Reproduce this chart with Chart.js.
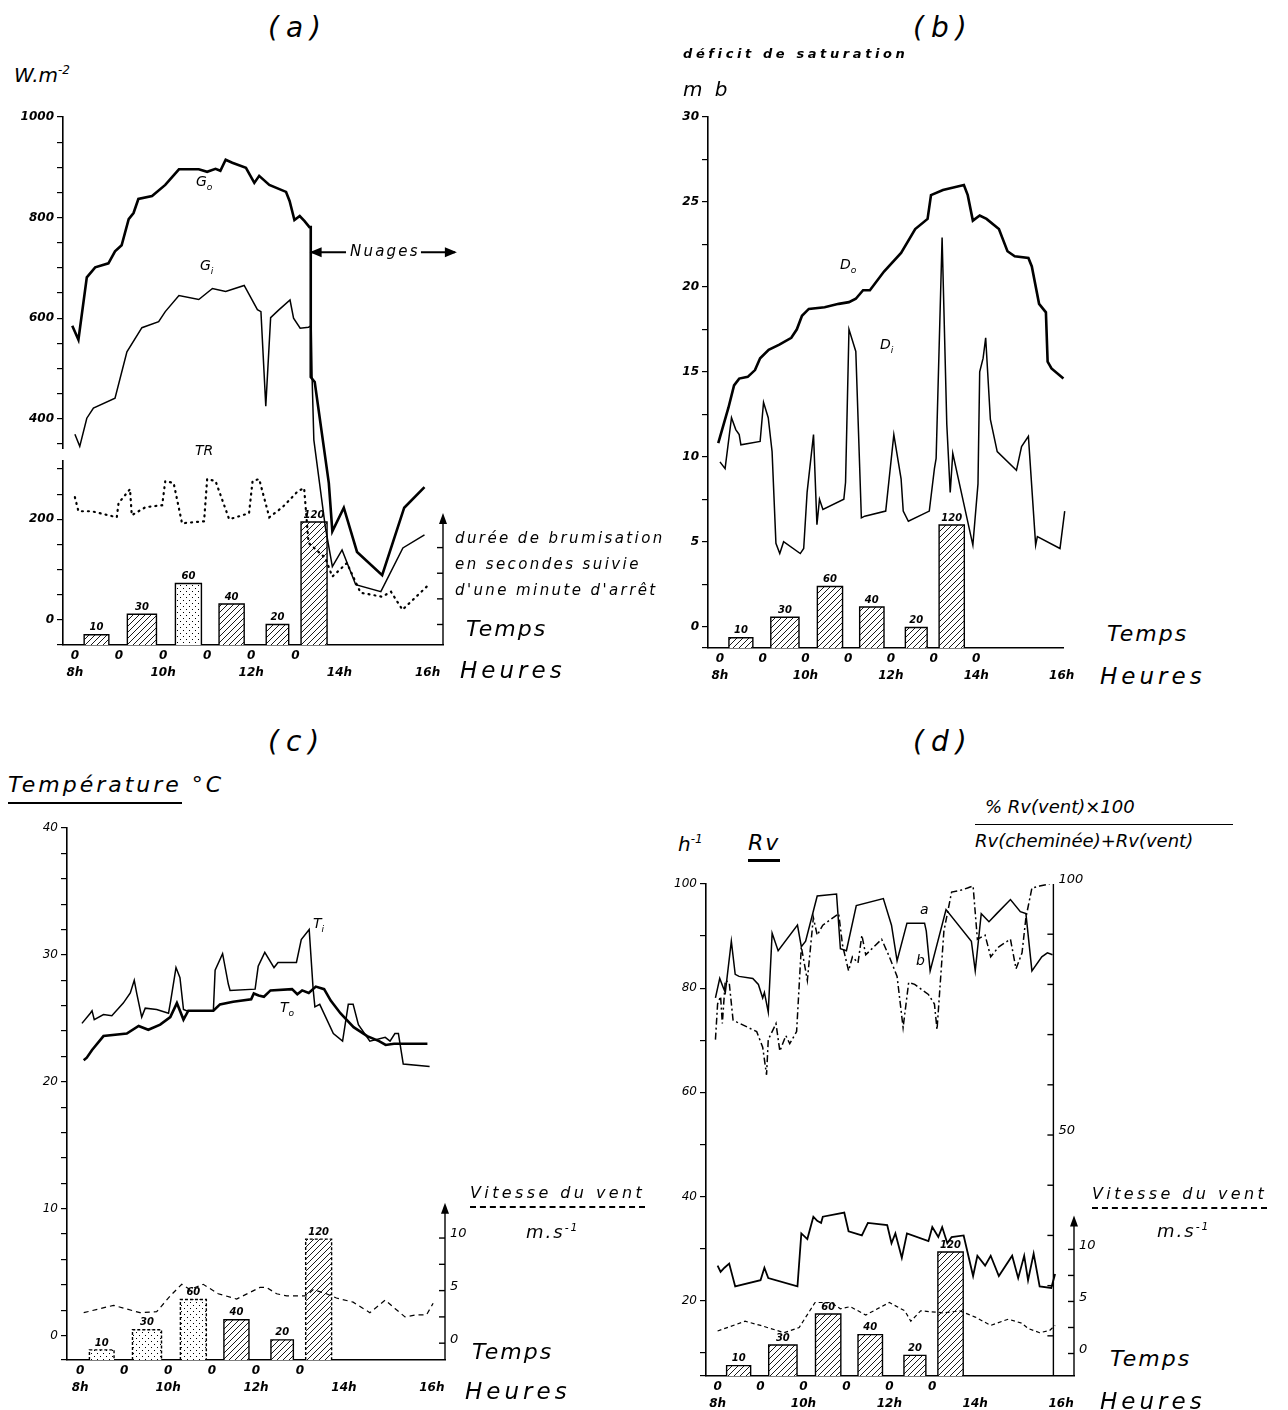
<!DOCTYPE html>
<html>
<head>
<meta charset="utf-8">
<script src="https://cdn.jsdelivr.net/npm/chart.js@4.4.1/dist/chart.umd.min.js"></script>
<style>
  body { margin: 0; width: 1288px; height: 1410px; position: relative; overflow: hidden; background: #fff;
         font-family: "DejaVu Sans", sans-serif; font-style: italic; color: #000; }
  canvas { position: absolute; }
  .t { position: absolute; white-space: nowrap; line-height: 1; }
  .ttl { font-size: 28px; letter-spacing: 7px; }
  .lbl { font-size: 14px; }
  .big { font-size: 22px; letter-spacing: 2px; }
  .heu { font-size: 23px; letter-spacing: 4px; }
  .brum { font-size: 15px; letter-spacing: 2.4px; }
  sup { font-size: 60%; }
  sub { font-size: 65%; }
</style>
</head>
<body>
<canvas id="chartA"></canvas>
<canvas id="chartB"></canvas>
<canvas id="chartC"></canvas>
<canvas id="chartD"></canvas>

<!-- (a) -->
<div class="t ttl" style="left:268px;top:14px">(a)</div>
<div class="t" style="left:14px;top:64px;font-size:20px">W.m<sup>-2</sup></div>
<div class="t lbl" style="left:196px;top:174px">G<sub>o</sub></div>
<div class="t lbl" style="left:200px;top:258px">G<sub>i</sub></div>
<div class="t lbl" style="left:195px;top:443px">TR</div>
<div class="t" style="left:350px;top:244px;font-size:15px;letter-spacing:2.2px">Nuages</div>
<div class="t brum" style="left:455px;top:531px">durée de brumisation</div>
<div class="t brum" style="left:455px;top:557px">en secondes suivie</div>
<div class="t brum" style="left:455px;top:583px">d'une minute d'arrêt</div>
<div class="t big" style="left:466px;top:618px">Temps</div>
<div class="t heu" style="left:460px;top:659px">Heures</div>

<!-- (b) -->
<div class="t ttl" style="left:913px;top:14px">(b)</div>
<div class="t" style="left:683px;top:47px;font-size:13px;font-weight:bold;letter-spacing:3.6px">déficit de saturation</div>
<div class="t" style="left:683px;top:79px;font-size:20px;letter-spacing:3px">m b</div>
<div class="t lbl" style="left:840px;top:257px">D<sub>o</sub></div>
<div class="t lbl" style="left:880px;top:337px">D<sub>i</sub></div>
<div class="t big" style="left:1107px;top:623px">Temps</div>
<div class="t heu" style="left:1100px;top:665px">Heures</div>

<!-- (c) -->
<div class="t ttl" style="left:268px;top:728px">(c)</div>
<div class="t big" style="left:8px;top:774px;letter-spacing:3px"><span style="border-bottom:2px solid #000;padding-bottom:5px">Température</span> °C</div>
<div class="t lbl" style="left:313px;top:916px">T<sub>i</sub></div>
<div class="t lbl" style="left:280px;top:1000px">T<sub>o</sub></div>
<div class="t" style="left:470px;top:1185px;font-size:16px;letter-spacing:3.4px;border-bottom:2px dashed #000;padding-bottom:5px">Vitesse du vent</div>
<div class="t" style="left:526px;top:1223px;font-size:18px;letter-spacing:2px">m.s<sup>-1</sup></div>
<div class="t big" style="left:472px;top:1341px">Temps</div>
<div class="t heu" style="left:465px;top:1380px">Heures</div>

<!-- (d) -->
<div class="t ttl" style="left:913px;top:728px">(d)</div>
<div class="t" style="left:985px;top:798px;font-size:18px">% Rv(vent)×100</div>
<div class="t" style="left:975px;top:824px;width:258px;height:0;border-top:1.5px solid #000"></div>
<div class="t" style="left:975px;top:832px;font-size:18px">Rv(cheminée)+Rv(vent)</div>
<div class="t" style="left:678px;top:833px;font-size:20px">h<sup>-1</sup></div>
<div class="t" style="left:748px;top:832px;font-size:22px;letter-spacing:2px"><span style="border-bottom:3px solid #000;padding-bottom:4px">Rv</span></div>
<div class="t lbl" style="left:920px;top:902px">a</div>
<div class="t lbl" style="left:916px;top:953px">b</div>
<div class="t" style="left:1092px;top:1186px;font-size:16px;letter-spacing:3.4px;border-bottom:2px dashed #000;padding-bottom:5px">Vitesse du vent</div>
<div class="t" style="left:1157px;top:1222px;font-size:18px;letter-spacing:2px">m.s<sup>-1</sup></div>
<div class="t big" style="left:1110px;top:1348px">Temps</div>
<div class="t heu" style="left:1100px;top:1390px">Heures</div>

<script>
// brumisation cycles (shared by the four panels)
const brumStart = [8.21, 9.19, 10.28, 11.27, 12.34, 13.13];
const brumEnd = [8.77, 9.85, 10.87, 11.84, 12.85, 13.72];
const brumSec = [10, 30, 60, 40, 20, 120];
const brumLabel = ['10', '30', '60', '40', '20', '120'];

// x axis ticks
const hourTicks = [8, 9, 10, 11, 12, 13, 14, 15, 16];
const hourLabels = ['8h', '', '10h', '', '12h', '', '14h', '', '16h'];
const zeroRow6 = ['0', '0', '0', '0', '0', '0', '', '', ''];
const zeroRow7 = ['0', '0', '0', '0', '0', '0', '0', '', ''];

// (a) rayonnement W.m-2
const goHour = [7.94, 8.08, 8.27, 8.46, 8.76, 8.91, 9.06, 9.22, 9.33, 9.44, 9.75, 10.05, 10.36, 10.81, 11.0, 11.19, 11.3, 11.42, 11.57, 11.88, 12.07, 12.18, 12.41, 12.79, 12.87, 12.98, 13.1, 13.21, 13.32, 13.35, 13.35, 13.44, 13.76, 13.84, 14.1, 14.4, 14.97, 15.47, 15.93];
const goW = [585, 557, 681, 701, 709, 733, 745, 797, 809, 837, 843, 865, 896, 896, 891, 897, 893, 915, 909, 899, 869, 883, 865, 851, 833, 795, 803, 793, 781, 781, 483, 473, 272, 176, 223, 135, 89, 223, 264];
const giHour = [8.0, 8.11, 8.27, 8.42, 8.91, 9.18, 9.52, 9.9, 10.05, 10.36, 10.81, 11.12, 11.42, 11.84, 12.14, 12.22, 12.33, 12.44, 12.62, 12.88, 12.96, 13.11, 13.3, 13.36, 13.38, 13.42, 13.68, 13.84, 14.06, 14.37, 14.94, 15.44, 15.93];
const giW = [369, 345, 401, 421, 441, 533, 581, 593, 613, 645, 637, 659, 653, 665, 617, 613, 425, 601, 616, 636, 600, 580, 582, 585, 484, 358, 185, 106, 139, 70, 56, 143, 169];
const trHour = [8.0, 8.08, 8.38, 8.95, 8.99, 9.25, 9.29, 9.6, 9.98, 10.05, 10.24, 10.43, 10.93, 11.0, 11.19, 11.5, 11.95, 12.03, 12.18, 12.41, 12.71, 13.06, 13.2, 13.3, 13.68, 13.84, 14.17, 14.48, 14.97, 15.17, 15.43, 15.98];
const trW = [244, 216, 216, 204, 232, 260, 208, 224, 228, 276, 272, 192, 196, 280, 276, 200, 212, 276, 280, 204, 224, 256, 262, 153, 123, 86, 113, 54, 46, 56, 20, 66];

// (b) déficit de saturation, mb
const doHour = [7.96, 8.2, 8.33, 8.45, 8.65, 8.82, 8.94, 9.14, 9.39, 9.67, 9.8, 9.92, 10.08, 10.45, 10.78, 11.02, 11.18, 11.35, 11.51, 11.84, 12.24, 12.57, 12.86, 12.94, 13.22, 13.71, 13.8, 13.92, 14.08, 14.24, 14.53, 14.73, 14.9, 15.22, 15.3, 15.47, 15.63, 15.67, 15.76, 16.04, 16.2];
const doMb = [10.8, 12.9, 14.2, 14.6, 14.7, 15.1, 15.8, 16.3, 16.6, 17.0, 17.5, 18.3, 18.7, 18.8, 19.0, 19.1, 19.3, 19.8, 19.8, 20.9, 22.0, 23.4, 24.0, 25.4, 25.7, 26.0, 25.4, 23.9, 24.2, 24.0, 23.4, 22.1, 21.8, 21.7, 21.2, 19.0, 18.5, 15.6, 15.2, 14.6, 13.6];
const diHour = [8.0, 8.12, 8.27, 8.37, 8.45, 8.49, 8.94, 9.02, 9.13, 9.22, 9.31, 9.4, 9.49, 9.88, 9.96, 10.04, 10.19, 10.27, 10.33, 10.41, 10.9, 10.94, 11.02, 11.18, 11.31, 11.39, 11.88, 12.07, 12.24, 12.29, 12.41, 12.9, 13.02, 13.06, 13.2, 13.31, 13.39, 13.45, 13.92, 14.04, 14.08, 14.16, 14.22, 14.33, 14.49, 14.94, 15.06, 15.22, 15.39, 15.43, 15.96, 16.07];
const diMb = [9.7, 9.3, 12.3, 11.6, 11.3, 10.7, 10.9, 13.2, 12.3, 10.3, 4.9, 4.3, 5.0, 4.3, 4.6, 7.9, 11.3, 6.0, 7.5, 6.9, 7.5, 8.5, 17.5, 16.2, 6.4, 6.5, 6.8, 11.3, 8.7, 6.8, 6.2, 6.8, 9.3, 9.9, 22.9, 11.9, 7.9, 10.2, 4.8, 8.4, 15.0, 15.8, 17.0, 12.2, 10.3, 9.2, 10.6, 11.2, 4.8, 5.3, 4.6, 6.8];

// (c) température °C et vent m/s
const tiHour = [8.04, 8.23, 8.27, 8.32, 8.53, 8.72, 8.98, 9.14, 9.23, 9.29, 9.4, 9.48, 9.74, 10.01, 10.06, 10.18, 10.27, 10.35, 10.42, 11.03, 11.07, 11.24, 11.37, 11.41, 11.98, 12.05, 12.2, 12.41, 12.5, 12.92, 13.03, 13.21, 13.3, 13.34, 13.45, 13.76, 13.97, 14.1, 14.21, 14.33, 14.59, 14.94, 15.05, 15.16, 15.24, 15.35, 15.95];
const tiC = [24.6, 25.4, 25.6, 24.9, 25.3, 25.2, 26.2, 27.0, 28.0, 26.9, 25.1, 25.8, 25.7, 25.4, 26.4, 29.0, 28.2, 25.7, 25.6, 25.6, 28.8, 30.1, 27.7, 27.2, 27.3, 29.1, 30.2, 29.0, 29.4, 29.4, 31.2, 32.0, 27.3, 25.9, 26.1, 23.8, 23.2, 26.1, 26.1, 24.5, 23.2, 23.5, 23.2, 23.8, 23.8, 21.4, 21.2];
const toHour = [8.08, 8.15, 8.27, 8.53, 9.06, 9.33, 9.55, 9.82, 10.05, 10.2, 10.35, 10.46, 11.03, 11.18, 11.48, 11.89, 11.95, 12.06, 12.18, 12.33, 12.82, 12.94, 13.05, 13.2, 13.36, 13.55, 13.7, 13.92, 14.22, 14.53, 14.8, 14.95, 15.14, 15.9];
const toC = [21.7, 21.9, 22.5, 23.6, 23.8, 24.4, 24.1, 24.5, 25.1, 26.2, 24.9, 25.6, 25.6, 26.1, 26.3, 26.5, 26.96, 26.8, 26.7, 27.2, 27.3, 26.9, 27.2, 27.0, 27.5, 27.3, 26.4, 25.4, 24.3, 23.6, 23.2, 22.9, 23.0, 23.0];
const ventCHour = [8.08, 8.76, 9.36, 9.74, 10.05, 10.31, 10.5, 10.8, 11.14, 11.56, 12.09, 12.24, 12.47, 12.7, 13.15, 13.3, 13.6, 13.83, 14.21, 14.59, 14.94, 15.16, 15.39, 15.65, 15.88, 16.03];
const ventC = [2.9, 3.6, 2.9, 3.0, 4.5, 5.6, 5.1, 5.6, 4.7, 4.2, 5.3, 5.3, 4.7, 4.5, 4.5, 5.1, 4.7, 4.3, 3.9, 2.9, 4.1, 3.3, 2.5, 2.7, 2.7, 3.8];

// (d) taux de renouvellement Rv h-1, % Rv(vent), vent m/s
const aHour = [7.95, 8.05, 8.14, 8.18, 8.32, 8.41, 8.5, 8.82, 8.95, 9.05, 9.09, 9.18, 9.27, 9.41, 9.86, 9.95, 10.05, 10.32, 10.77, 10.86, 11.0, 11.23, 11.86, 12.05, 12.18, 12.41, 12.82, 12.86, 12.95, 13.32, 13.91, 14.0, 14.14, 14.32, 14.5, 14.82, 15.05, 15.18, 15.32, 15.55, 15.68, 15.8];
const aPct = [77.3, 81.2, 79.2, 78.4, 88.6, 82.0, 81.6, 81.2, 80.0, 77.3, 78.4, 74.5, 90.2, 86.7, 91.8, 87.5, 88.6, 97.6, 98.0, 87.1, 86.7, 95.7, 97.1, 91.8, 84.7, 92.2, 92.2, 90.6, 82.7, 94.9, 88.6, 82.7, 94.1, 92.5, 94.1, 96.9, 94.5, 94.1, 82.7, 85.5, 86.3, 85.9];
const bHour = [7.95, 8.0, 8.07, 8.11, 8.18, 8.27, 8.36, 8.45, 8.91, 9.05, 9.14, 9.18, 9.27, 9.36, 9.45, 9.59, 9.68, 9.84, 9.95, 10.09, 10.23, 10.32, 10.45, 10.82, 10.91, 11.05, 11.14, 11.27, 11.36, 11.45, 11.82, 12.0, 12.18, 12.32, 12.45, 12.59, 12.91, 13.05, 13.11, 13.27, 13.45, 13.68, 13.82, 13.95, 14.05, 14.23, 14.36, 14.55, 14.82, 14.95, 15.09, 15.18, 15.32, 15.5, 15.73];
const bPct = [69.0, 76.1, 77.6, 72.2, 80.8, 80.4, 72.9, 72.5, 70.6, 67.5, 62.0, 69.0, 70.6, 72.2, 66.7, 69.8, 68.2, 70.6, 87.5, 80.8, 93.3, 89.8, 91.8, 94.1, 87.8, 82.7, 85.5, 84.3, 89.8, 85.9, 89.0, 85.5, 81.6, 71.4, 80.4, 80.0, 78.0, 76.1, 71.0, 90.6, 98.4, 98.8, 99.2, 99.6, 89.0, 89.8, 85.5, 87.5, 89.0, 83.1, 86.3, 93.3, 99.2, 99.6, 100];
const rvHour = [8.0, 8.07, 8.16, 8.27, 8.41, 9.0, 9.09, 9.18, 9.86, 9.95, 10.09, 10.23, 10.32, 10.41, 10.45, 10.95, 11.05, 11.36, 11.5, 11.95, 12.05, 12.14, 12.29, 12.41, 12.91, 13.0, 13.14, 13.23, 13.35, 13.45, 13.73, 13.95, 14.05, 14.23, 14.36, 14.55, 14.86, 15.0, 15.14, 15.23, 15.36, 15.5, 15.77, 15.86];
const rvH = [26.7, 25.5, 26.3, 27.1, 22.7, 23.9, 26.3, 24.3, 22.7, 32.9, 31.8, 36.1, 35.3, 34.9, 36.1, 36.9, 33.3, 32.5, 34.9, 34.5, 31.0, 32.9, 28.2, 32.9, 31.4, 34.1, 32.2, 34.1, 31.0, 32.2, 32.5, 24.7, 28.6, 26.7, 28.6, 24.7, 28.6, 24.3, 28.6, 23.9, 29.0, 22.7, 22.4, 25.1];
const ventDHour = [8.0, 8.64, 9.0, 9.55, 9.9, 10.27, 10.64, 10.86, 11.09, 11.45, 12.0, 12.36, 12.5, 12.73, 13.27, 13.64, 14.0, 14.36, 14.77, 15.09, 15.23, 15.5, 15.73, 15.86];
const ventD = [2.16, 3.1, 2.7, 2.0, 2.5, 4.9, 4.9, 4.3, 4.5, 3.7, 4.9, 4.1, 3.1, 4.1, 3.9, 4.1, 3.5, 2.7, 3.3, 2.9, 2.4, 2.0, 2.2, 2.7];

const PAD_L = 58, PAD_T = 22, PAD_R = 34, PAD_B = 52;
Chart.defaults.font.family = '"DejaVu Sans", sans-serif';
Chart.defaults.color = '#000';

function makeHatch(gap) {
  const c = document.createElement('canvas');
  c.width = c.height = gap;
  const g = c.getContext('2d');
  g.fillStyle = '#fff'; g.fillRect(0, 0, gap, gap);
  g.strokeStyle = '#000'; g.lineWidth = 0.9;
  g.beginPath();
  g.moveTo(0, gap); g.lineTo(gap, 0);
  g.moveTo(-1, 1); g.lineTo(1, -1);
  g.moveTo(gap - 1, gap + 1); g.lineTo(gap + 1, gap - 1);
  g.stroke();
  return g.createPattern(c, 'repeat');
}
function makeDots() {
  const c = document.createElement('canvas');
  c.width = c.height = 6;
  const g = c.getContext('2d');
  g.fillStyle = '#fff'; g.fillRect(0, 0, 6, 6);
  g.fillStyle = '#000';
  g.fillRect(1, 4, 1, 1); g.fillRect(4, 1, 1, 1);
  return g.createPattern(c, 'repeat');
}
const hatchFill = makeHatch(6);
const dotFill = makeDots();

function serie(hours, vals, axis, width, dash, extra) {
  return Object.assign({
    type: 'line', yAxisID: axis, order: 0,
    data: hours.map((h, i) => ({ x: h, y: vals[i] })),
    borderColor: '#000', borderWidth: width, borderDash: dash || [],
    pointRadius: 0, tension: 0, fill: false
  }, extra || {});
}

function barSets(kinds, dashed) {
  return brumSec.map((s, i) => ({
    type: 'line', yAxisID: 'yb', order: 5,
    data: [{ x: brumStart[i], y: 0 }, { x: brumStart[i], y: s }, { x: brumEnd[i], y: s }, { x: brumEnd[i], y: 0 }],
    fill: 'origin',
    backgroundColor: kinds[i] === 'dots' ? dotFill : hatchFill,
    borderColor: '#000', borderWidth: 1.4,
    borderDash: dashed && dashed[i] ? [3, 2] : [],
    pointRadius: 0, tension: 0
  }));
}

// extra axes, arrows and bar labels drawn from the chart scales
const deco = {
  id: 'deco',
  afterDatasetsDraw(chart, args, o) {
    const ctx = chart.ctx, xs = chart.scales.x, area = chart.chartArea;
    ctx.save();
    ctx.strokeStyle = '#000'; ctx.fillStyle = '#000'; ctx.lineWidth = 1.4; ctx.setLineDash([]);
    if (o.axisBreak) {
      const ys = chart.scales.y;
      const ya = ys.getPixelForValue(o.axisBreak[0]), yb = ys.getPixelForValue(o.axisBreak[1]);
      ctx.clearRect(area.left - 3, Math.min(ya, yb), 6, Math.abs(yb - ya));
    }
    if (o.barLabels) {
      const yb = chart.scales.yb;
      ctx.font = 'italic bold 10px "DejaVu Sans"';
      ctx.textAlign = 'center'; ctx.textBaseline = 'bottom';
      brumSec.forEach((s, i) => {
        ctx.fillText(brumLabel[i], xs.getPixelForValue((brumStart[i] + brumEnd[i]) / 2), yb.getPixelForValue(s) - 2);
      });
    }
    (o.axes || []).forEach(ax => {
      const sc = chart.scales[ax.scale];
      const x = ax.hour == null ? area.right : xs.getPixelForValue(ax.hour);
      const y0 = area.bottom, y1 = sc.getPixelForValue(ax.to);
      ctx.beginPath(); ctx.moveTo(x, y0); ctx.lineTo(x, y1); ctx.stroke();
      if (ax.arrow) {
        ctx.beginPath(); ctx.moveTo(x, y1 - 9); ctx.lineTo(x - 4, y1 + 2); ctx.lineTo(x + 4, y1 + 2); ctx.closePath(); ctx.fill();
      }
      ax.ticks.forEach(v => {
        const y = sc.getPixelForValue(v);
        ctx.beginPath(); ctx.moveTo(x - 6, y); ctx.lineTo(x, y); ctx.stroke();
      });
      ctx.font = 'italic 13px "DejaVu Sans"';
      ctx.textAlign = 'left'; ctx.textBaseline = 'middle';
      (ax.labels || []).forEach(l => ctx.fillText(l[1], x + 5, sc.getPixelForValue(l[0]) - 4));
    });
    (o.arrows || []).forEach(a => {
      const xa = xs.getPixelForValue(a.from), xb = xs.getPixelForValue(a.to), y = chart.scales.y.getPixelForValue(a.y);
      const dir = xb > xa ? 1 : -1;
      ctx.lineWidth = 2;
      ctx.beginPath(); ctx.moveTo(xa, y); ctx.lineTo(xb, y); ctx.stroke();
      ctx.beginPath(); ctx.moveTo(xb + dir * 2, y); ctx.lineTo(xb - dir * 10, y - 5); ctx.lineTo(xb - dir * 10, y + 5); ctx.closePath(); ctx.fill();
    });
    ctx.restore();
  }
};

function makeChart(id, box, cfg) {
  const cv = document.getElementById(id);
  const w = box.R - box.L + PAD_L + PAD_R, h = box.B - box.T + PAD_T + PAD_B;
  cv.width = w; cv.height = h;
  cv.style.left = (box.L - PAD_L) + 'px'; cv.style.top = (box.T - PAD_T) + 'px';
  const scales = {
    x: {
      type: 'linear', min: cfg.xMin, max: cfg.xMax,
      afterBuildTicks: s => { s.ticks = hourTicks.map(v => ({ value: v })); },
      afterFit: s => { s.height = PAD_B; },
      ticks: {
        autoSkip: false, maxRotation: 0, padding: 2,
        font: { size: 12, style: 'italic', weight: 'bold', lineHeight: 1.42 },
        callback: (v, i) => [cfg.zeros[i], hourLabels[i]]
      },
      grid: { display: false, drawTicks: false },
      border: { display: true, color: '#000', width: 1.6 }
    },
    y: {
      type: 'linear', position: 'left', min: cfg.yMin, max: cfg.yMax,
      afterFit: s => { s.width = PAD_L; },
      ticks: {
        stepSize: cfg.yStep, autoSkip: false, padding: 3,
        font: { size: 12, style: 'italic', weight: cfg.yBold ? 'bold' : 'normal' },
        callback: v => (v >= cfg.yLabelFrom && Math.abs(v / cfg.yLabelStep - Math.round(v / cfg.yLabelStep)) < 1e-6) ? String(v) : ''
      },
      grid: { drawOnChartArea: false, color: '#000', tickLength: 6, lineWidth: 1.2 },
      border: { color: '#000', width: 1.6 }
    },
    yb: { type: 'linear', display: false, min: 0, max: cfg.barMax }
  };
  Object.assign(scales, cfg.extraScales || {});
  return new Chart(cv, {
    type: 'line',
    data: { datasets: cfg.lines.concat(barSets(cfg.barKinds, cfg.barDashed)) },
    options: {
      responsive: false, animation: false, devicePixelRatio: 1,
      layout: { padding: { left: 0, top: PAD_T, right: PAD_R, bottom: 0 } },
      plugins: { legend: { display: false }, tooltip: { enabled: false }, deco: cfg.deco },
      scales: scales
    },
    plugins: [deco]
  });
}

const allHatch = ['hatch', 'hatch', 'hatch', 'hatch', 'hatch', 'hatch'];

makeChart('chartA', { L: 63, T: 117, R: 443, B: 645 }, {
  xMin: 7.73, xMax: 16.35, zeros: zeroRow6,
  yMin: -50, yMax: 1000, yStep: 50, yLabelStep: 200, yLabelFrom: 0, yBold: true,
  barMax: 515, barKinds: ['hatch', 'hatch', 'dots', 'hatch', 'hatch', 'hatch'],
  lines: [
    serie(goHour, goW, 'y', 2.6),
    serie(giHour, giW, 'y', 1.5),
    serie(trHour, trW, 'y', 2.2, [1, 5], { borderCapStyle: 'round' })
  ],
  deco: {
    barLabels: true, axisBreak: [340, 318],
    axes: [{ hour: null, scale: 'yb', to: 120, arrow: true, ticks: [20, 45, 70, 95] }],
    arrows: [{ from: 14.15, to: 13.37, y: 731 }, { from: 15.85, to: 16.62, y: 731 }]
  }
});

makeChart('chartB', { L: 708, T: 117, R: 1063, B: 648 }, {
  xMin: 7.72, xMax: 16.03, zeros: zeroRow7,
  yMin: -1.26, yMax: 30, yStep: 2.5, yLabelStep: 5, yLabelFrom: 0, yBold: true,
  barMax: 518, barKinds: allHatch,
  lines: [
    serie(doHour, doMb, 'y', 2.6, null, { clip: false }),
    serie(diHour, diMb, 'y', 1.5, null, { clip: false })
  ],
  deco: { barLabels: true }
});

makeChart('chartC', { L: 67, T: 828, R: 445, B: 1360 }, {
  xMin: 7.7, xMax: 16.3, zeros: zeroRow6,
  yMin: -1.93, yMax: 40, yStep: 2, yLabelStep: 10, yLabelFrom: 0, yBold: false,
  barMax: 528, barKinds: ['dots', 'dots', 'dots', 'hatch', 'hatch', 'hatch'], barDashed: [true, true, true, false, false, true],
  extraScales: { yw: { type: 'linear', display: false, min: -1.6, max: 49 } },
  lines: [
    serie(tiHour, tiC, 'y', 1.5),
    serie(toHour, toC, 'y', 2.6),
    serie(ventCHour, ventC, 'yw', 1.2, [5, 4])
  ],
  deco: {
    barLabels: true,
    axes: [{ hour: null, scale: 'yw', to: 12.5, arrow: true, ticks: [0, 2.5, 5, 7.5, 10], labels: [[0, '0'], [5, '5'], [10, '10']] }]
  }
});

makeChart('chartD', { L: 706, T: 884, R: 1074, B: 1376 }, {
  xMin: 7.73, xMax: 16.3, zeros: zeroRow6,
  yMin: 5.5, yMax: 100, yStep: 10, yLabelStep: 20, yLabelFrom: 20, yBold: false,
  barMax: 476, barKinds: allHatch,
  extraScales: {
    yw: { type: 'linear', display: false, min: -2.16, max: 45.1 },
    yp: { type: 'linear', display: false, min: 2, max: 100 }
  },
  lines: [
    serie(aHour, aPct, 'yp', 1.5),
    serie(bHour, bPct, 'yp', 1.5, [7, 3, 2, 3]),
    serie(rvHour, rvH, 'y', 1.8),
    serie(ventDHour, ventD, 'yw', 1.2, [4, 3])
  ],
  deco: {
    barLabels: true,
    axes: [
      { hour: 15.82, scale: 'yp', to: 100, ticks: [10, 20, 30, 40, 50, 60, 70, 80, 90], labels: [[100, '100'], [50, '50']] },
      { hour: null, scale: 'yw', to: 12.4, arrow: true, ticks: [0, 2.5, 5, 7.5, 10], labels: [[0, '0'], [5, '5'], [10, '10']] }
    ]
  }
});
</script>
</body>
</html>
